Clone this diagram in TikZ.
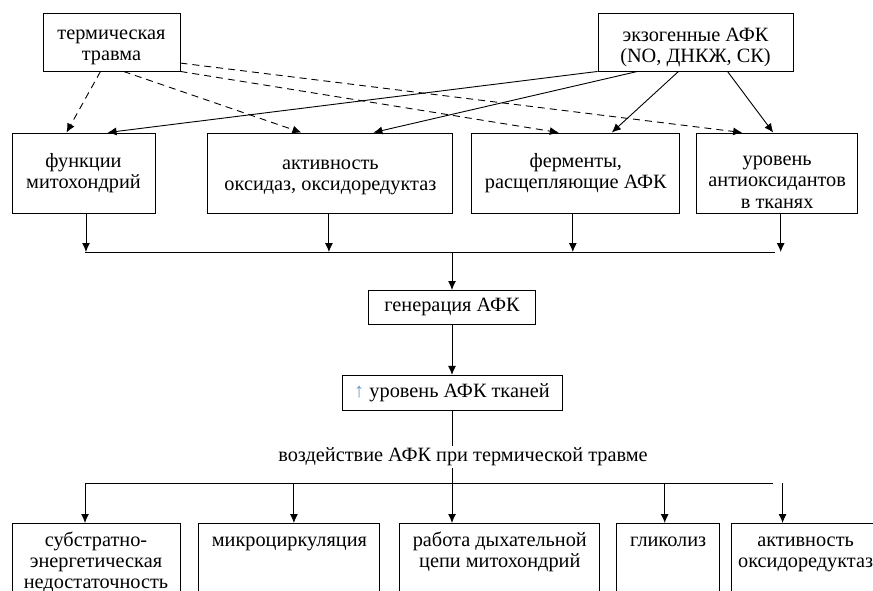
\documentclass[tikz,border=0pt]{standalone}
\usepackage{fontspec}
\setmainfont{Liberation Serif}
\usetikzlibrary{arrows.meta,positioning}
\definecolor{uparrow}{RGB}{110,150,200}
\newcommand{\txt}{\fontsize{20.3}{21.5}\selectfont}
\newcommand{\lowtxt}{\fontsize{20.3}{20.7}\selectfont}
\newcommand{\lift}[1]{\rule{0pt}{#1}}

\begin{document}
\begin{tikzpicture}[
x=1pt, y=-1pt,
node distance=18pt and 18pt,
topbox/.style={draw, line width=0.9pt, align=center, minimum height=58pt, font=\txt},
box/.style={draw, line width=0.9pt, align=center, minimum height=80pt, font=\txt},
midbox/.style={draw, line width=0.9pt, align=center, minimum height=34pt, font=\txt},
lowbox/.style={draw, line width=0.9pt, align=center, anchor=north, inner ysep=4pt, text depth=60pt, font=\lowtxt},
arrow/.style={-{Latex[length=9pt,width=8pt]}, line width=0.9pt},
dasharrow/.style={arrow, dash pattern=on 7pt off 5pt}
]
\path[use as bounding box, clip] (0,0) rectangle (873,591);

\node[topbox, minimum width=137pt] (trauma) at (111.5,42) {\lift{20pt}термическая\\травма};
\node[topbox, minimum width=195pt] (exo) at (695.5,42) {\lift{24pt}экзогенные АФК\\(NO, ДНКЖ, СК)};

\node[box, minimum width=143pt] (mito) at (83.5,173) {функции\\митохондрий};
\node[box, minimum width=245pt, right=52pt of mito] (oxid) {\lift{18pt}активность\\оксидаз, оксидоредуктаз};
\node[box, minimum width=208pt, right=of oxid] (enz) {ферменты,\\расщепляющие АФК};
\node[box, minimum width=161pt, right=16pt of enz] (antiox) {\lift{28pt}уровень\\антиоксидантов\\в тканях};

\coordinate (busL) at (85,252);
\coordinate (busR) at (775,252);
\coordinate (busM) at (452,252);
\node[midbox, minimum width=167pt, below=38pt of busM] (gen) {генерация АФК};
\node[midbox, minimum width=220pt, minimum height=35pt, below=50pt of gen] (level) {\textcolor{uparrow}{↑} уровень АФК тканей};
\node[font=\txt, inner sep=2pt] (effects) at (463,457) {воздействие АФК при термической травме};

\coordinate (lowL) at (85,483);
\coordinate (lowR) at (773,483);
\node[lowbox, minimum width=168pt] (subst) at (96,523) {\lift{19.5pt}субстратно-\\энергетическая\\недостаточность};
\node[lowbox, minimum width=181pt, right=18pt of subst.north east, anchor=north west] (micro) {\lift{19.5pt}микроциркуляция};
\node[lowbox, minimum width=200pt, right=19pt of micro.north east, anchor=north west] (resp) {\lift{19.5pt}работа дыхательной\\цепи митохондрий};
\node[lowbox, minimum width=103pt, right=16pt of resp.north east, anchor=north west] (glyc) {\lift{19.5pt}гликолиз};
\node[lowbox, minimum width=148pt, right=11pt of glyc.north east, anchor=north west] (oxred) {\lift{19.5pt}активность\\оксидоредуктаз};

\draw[dasharrow] ([xshift=-11pt]trauma.south) -- ([xshift=-17pt]mito.north);
\draw[dasharrow] ([xshift=12pt]trauma.south) -- ([xshift=-29pt]oxid.north);
\draw[dasharrow] (trauma.south east) -- ([xshift=-17pt]enz.north);
\draw[dasharrow] (trauma.-17) -- ([xshift=-35pt]antiox.north);
\draw[arrow] (exo.south west) -- ([xshift=24pt]mito.north);
\draw[arrow] ([xshift=-58pt]exo.south) -- ([xshift=43pt]oxid.north);
\draw[arrow] ([xshift=-17pt]exo.south) -- ([xshift=36pt]enz.north);
\draw[arrow] ([xshift=32pt]exo.south) -- ([xshift=-4pt]antiox.north);

\draw[arrow] ([xshift=2.5pt]mito.south) -- ([xshift=2.5pt]mito.south |- busL);
\draw[arrow] ([xshift=-1.5pt]oxid.south) -- ([xshift=-1.5pt]oxid.south |- busL);
\draw[arrow] ([xshift=-3pt]enz.south) -- ([xshift=-3pt]enz.south |- busL);
\draw[arrow] ([xshift=3.5pt]antiox.south) -- ([xshift=3.5pt]antiox.south |- busL);
\draw[line width=0.9pt] (busL) -- (busR);
\draw[arrow] (busM) -- (gen);
\draw[arrow] (gen) -- (level);
\draw[line width=0.9pt] (level) -- (level |- effects.north);
\draw[arrow] (level |- effects.south) -- (level |- resp.north);
\draw[line width=0.9pt] (lowL) -- (lowR);
\draw[arrow] ([xshift=-11pt]subst.north |- lowL) -- ([xshift=-11pt]subst.north);
\draw[arrow] ([xshift=4.5pt]micro.north |- lowL) -- ([xshift=4.5pt]micro.north);
\draw[arrow] ([xshift=-3.5pt]glyc.north |- lowL) -- ([xshift=-3.5pt]glyc.north);
\draw[arrow] ([xshift=-23pt]oxred.north |- lowL) -- ([xshift=-23pt]oxred.north);
\end{tikzpicture}
\end{document}
